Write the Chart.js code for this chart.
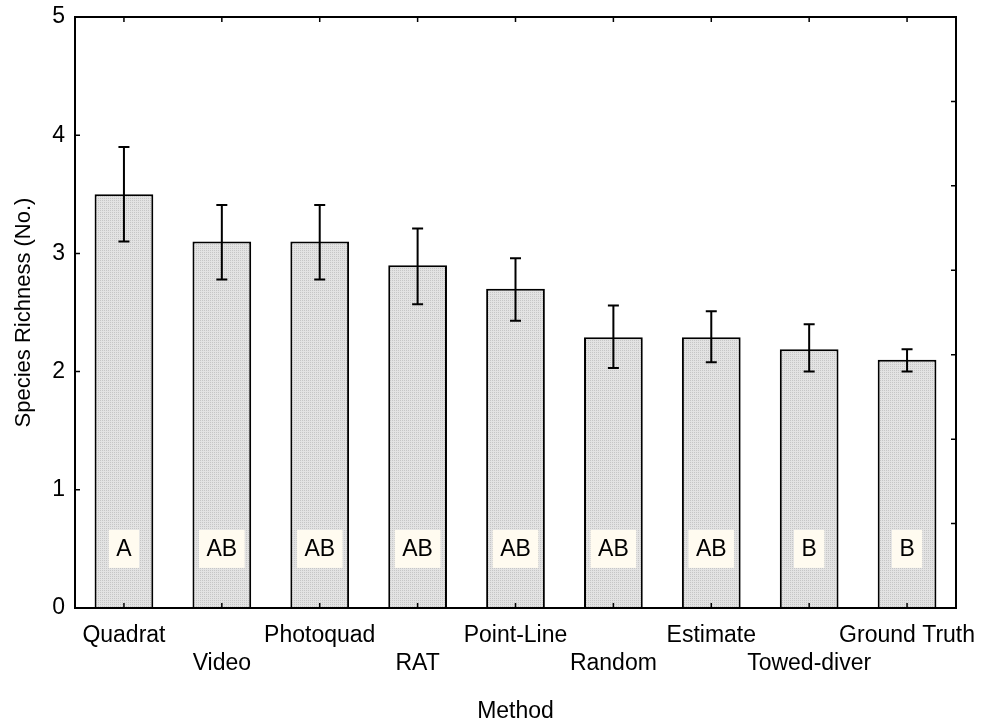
<!DOCTYPE html>
<html>
<head>
<meta charset="utf-8">
<script src="https://cdn.jsdelivr.net/npm/chart.js@4"></script>
<style>
  html, body { margin: 0; padding: 0; background: #fff; }
</style>
</head>
<body>
<canvas id="richnessChart" width="984" height="725"></canvas>
<script>
const methods = ['Quadrat', 'Video', 'Photoquad', 'RAT', 'Point-Line', 'Random', 'Estimate', 'Towed-diver', 'Ground Truth'];
const meanRichness = [3.50, 3.10, 3.10, 2.90, 2.70, 2.29, 2.29, 2.19, 2.10];
const errorLow = [3.10, 2.78, 2.78, 2.57, 2.43, 2.03, 2.08, 2.00, 2.00];
const errorHigh = [3.90, 3.41, 3.41, 3.21, 2.96, 2.56, 2.51, 2.40, 2.19];
const groupLetters = ['A', 'AB', 'AB', 'AB', 'AB', 'AB', 'AB', 'B', 'B'];
const letterLevel = 0.5;

const fontFamily = "'Liberation Sans', Arial, sans-serif";

// fine grey stipple like the original fill
function makeStipple() {
    const c = document.createElement('canvas');
    c.width = 2;
    c.height = 2;
    const g = c.getContext('2d');
    g.fillStyle = '#e3e3e3';
    g.fillRect(0, 0, 2, 2);
    g.fillStyle = '#c6c6c6';
    g.fillRect(0, 0, 1, 1);
    return g.createPattern(c, 'repeat');
}

const errorBars = {
    id: 'errorBars',
    afterDatasetsDraw(chart) {
        const ctx = chart.ctx;
        const x = chart.scales.x;
        const y = chart.scales.y;
        ctx.save();
        ctx.strokeStyle = '#000';
        ctx.lineWidth = 2;
        errorLow.forEach((lo, i) => {
            const px = x.getPixelForValue(i);
            const yLo = y.getPixelForValue(lo);
            const yHi = y.getPixelForValue(errorHigh[i]);
            ctx.beginPath();
            ctx.moveTo(px, yLo);
            ctx.lineTo(px, yHi);
            ctx.moveTo(px - 5.5, yLo);
            ctx.lineTo(px + 5.5, yLo);
            ctx.moveTo(px - 5.5, yHi);
            ctx.lineTo(px + 5.5, yHi);
            ctx.stroke();
        });

        // group letters in small boxes
        ctx.font = '23px ' + fontFamily;
        ctx.textAlign = 'center';
        ctx.textBaseline = 'middle';
        groupLetters.forEach((txt, i) => {
            const px = x.getPixelForValue(i);
            const py = y.getPixelForValue(letterLevel);
            const w = ctx.measureText(txt).width + 15;
            ctx.fillStyle = '#fffbf0';
            ctx.fillRect(px - w / 2, py - 19, w, 38);
            ctx.fillStyle = '#000';
            ctx.fillText(txt, px, py + 1);
        });
        ctx.restore();
    }
};

const frameAndTicks = {
    id: 'frameAndTicks',
    afterDraw(chart) {
        const ctx = chart.ctx;
        const a = chart.chartArea;
        const x = chart.scales.x;
        const y = chart.scales.y;
        const y2 = chart.scales.y2;
        const len = 5;
        ctx.save();
        ctx.strokeStyle = '#000';
        ctx.lineWidth = 1.5;
        ctx.beginPath();
        methods.forEach((m, i) => {
            const px = x.getPixelForValue(i);
            ctx.moveTo(px, a.bottom);
            ctx.lineTo(px, a.bottom - len);
            ctx.moveTo(px, a.top);
            ctx.lineTo(px, a.top + len);
        });
        y.ticks.forEach(t => {
            const py = y.getPixelForValue(t.value);
            ctx.moveTo(a.left, py);
            ctx.lineTo(a.left + len, py);
        });
        y2.ticks.forEach(t => {
            const py = y2.getPixelForValue(t.value);
            ctx.moveTo(a.right, py);
            ctx.lineTo(a.right - len, py);
        });
        ctx.stroke();
        ctx.lineWidth = 2;
        ctx.strokeRect(a.left, a.top, a.right - a.left, a.bottom - a.top);
        ctx.restore();
    }
};

// pin the plot box so labels don't push it around
function fixVertical(width) {
    return (scale) => {
        scale.width = width;
        scale.paddingTop = 0;
        scale.paddingBottom = 0;
    };
}

const ctx = document.getElementById('richnessChart').getContext('2d');

new Chart(ctx, {
    type: 'bar',
    data: {
        labels: methods,
        datasets: [{
            data: meanRichness,
            backgroundColor: makeStipple(),
            borderColor: '#000',
            borderWidth: 2,
            categoryPercentage: 1,
            barPercentage: 0.6
        }]
    },
    options: {
        responsive: false,
        animation: false,
        devicePixelRatio: 1,
        layout: { padding: { top: 17, left: 0, right: 0, bottom: 0 } },
        plugins: {
            legend: { display: false },
            tooltip: { enabled: false }
        },
        scales: {
            x: {
                grid: { display: false, drawTicks: false },
                border: { display: false },
                ticks: {
                    color: '#000',
                    font: { family: fontFamily, size: 23, lineHeight: 1.25 },
                    padding: 13,
                    maxRotation: 0,
                    autoSkip: false,
                    callback: function (value, index) {
                        const label = this.getLabelForValue(value);
                        return index % 2 ? ['', label] : label;
                    }
                },
                title: {
                    display: true,
                    text: 'Method',
                    color: '#000',
                    font: { family: fontFamily, size: 23 },
                    padding: { top: 0, bottom: 0 }
                },
                afterFit: (scale) => {
                    scale.height = 117;
                    scale.paddingLeft = 0;
                    scale.paddingRight = 0;
                }
            },
            y: {
                min: 0,
                max: 5,
                grid: { display: false, drawTicks: false },
                border: { display: false },
                ticks: {
                    stepSize: 1,
                    color: '#000',
                    font: { family: fontFamily, size: 23 },
                    padding: 10
                },
                title: {
                    display: true,
                    text: 'Species Richness (No.)',
                    color: '#000',
                    font: { family: fontFamily, size: 22 },
                    padding: { top: 11, bottom: 0 }
                },
                afterFit: fixVertical(75)
            },
            y2: {
                position: 'right',
                min: 0,
                max: 7,
                grid: { display: false, drawTicks: false },
                border: { display: false },
                ticks: { display: false, stepSize: 1 },
                afterFit: fixVertical(28)
            }
        }
    },
    plugins: [errorBars, frameAndTicks]
});
</script>
</body>
</html>
